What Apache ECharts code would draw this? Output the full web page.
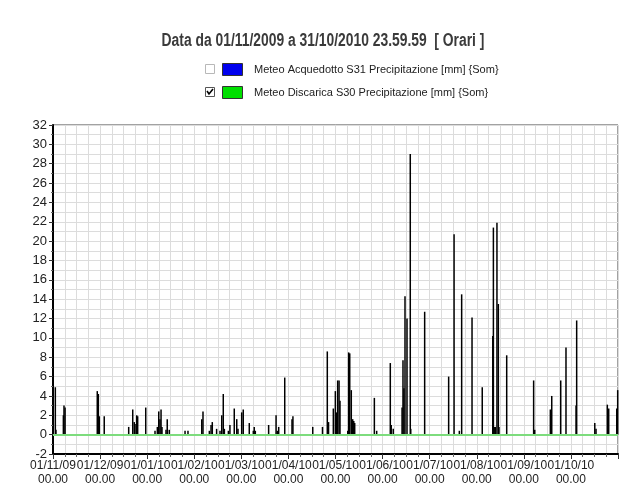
<html>

<head>
    <script src="https://cdn.jsdelivr.net/npm/echarts@6/dist/echarts.min.js"></script>
    <style>
        body {
            margin: 0;
            background: #fff;
        }

        #chart {
            width: 627px;
            height: 495px;
        }
    </style>
</head>

<body>
    <div id="chart"></div>
    <script>
        // giorni dall'01/11/2009 00.00 e pioggia oraria [mm] (Discarica S30)
        var rainDay = [1.5, 1.9, 6.7, 7.1, 7.8, 28.6, 29.3, 29.9, 33.1, 48.9,
            51.5, 52.5, 53.6, 54.1, 54.7, 59.9, 65.9, 67.4, 68.3, 69.1,
            69.8, 70.4, 73.0, 73.8, 75.1, 85.3, 87.2, 96.1, 96.9, 101.0,
            102.1, 102.9, 105.7, 107.9, 109.0, 110.0, 110.7, 113.3, 114.3, 117.1,
            118.7, 119.5, 121.9, 122.9, 126.8, 129.4, 130.0, 130.7, 139.3, 144.1,
            144.9, 145.8, 149.7, 154.4, 155.0, 167.8, 174.1, 177.2, 178.0, 181.1,
            182.4, 183.3, 183.9, 184.8, 185.4, 190.4, 191.0, 191.7, 192.7, 193.6,
            194.3, 194.9, 207.6, 209.1, 217.9, 218.5, 219.8, 225.5, 226.1, 226.7,
            227.4, 228.7, 230.8, 231.1, 240.1, 255.6, 259.1, 262.5, 264.0, 270.7,
            277.3, 284.1, 284.5, 285.4, 285.8, 286.8, 287.7, 288.1, 293.1, 310.5,
            311.2, 321.3, 322.2, 328.0, 331.4, 337.9, 338.3, 350.0, 350.8, 358.1,
            359.0, 364.2, 364.8];
        var rainMm = [4.9, 0.5, 2.0, 3.0, 2.8, 4.5, 4.2, 1.9, 1.9, 0.8,
            2.6, 1.3, 1.1, 2.0, 1.9, 2.8, 0.4, 0.8, 2.4, 1.6,
            2.6, 0.8, 0.5, 1.6, 0.5, 0.4, 0.4, 1.6, 2.4, 0.4,
            1.0, 1.3, 0.6, 0.4, 2.0, 4.2, 0.6, 0.4, 1.0, 2.7,
            1.6, 0.6, 2.3, 2.6, 1.2, 0.4, 0.8, 0.4, 1.0, 2.0,
            0.4, 0.8, 5.9, 1.6, 1.9, 0.8, 0.8, 8.6, 1.3, 2.7,
            4.5, 2.3, 5.6, 5.6, 3.5, 0.4, 8.5, 8.4, 4.6, 1.6,
            1.4, 1.2, 3.8, 0.4, 7.4, 1.0, 0.6, 2.8, 7.7, 4.8,
            14.3, 12.0, 29.0, 0.6, 12.7, 6.0, 20.7, 0.4, 14.5, 12.1,
            4.9, 10.2, 21.4, 0.8, 0.8, 21.9, 13.5, 0.8, 8.2, 5.6,
            0.5, 2.6, 4.0, 5.6, 9.0, 3.0, 11.8, 1.2, 0.6, 3.1,
            2.7, 2.7, 4.6];

        var monthLabels = ['01/11/09', '01/12/09', '01/01/10', '01/02/10', '01/03/10', '01/04/10',
            '01/05/10', '01/06/10', '01/07/10', '01/08/10', '01/09/10', '01/10/10'];
        var timeLabel = '00.00';
        var yTickLabels = [-2, 0, 2, 4, 6, 8, 10, 12, 14, 16, 18, 20, 22, 24, 26, 28, 30, 32];
        var daysInYear = 365;

        var seriesNames = ['Meteo Acquedotto S31 Precipitazione [mm] {Som}',
            'Meteo Discarica S30 Precipitazione [mm] {Som}'];
        var titleText = 'Data da 01/11/2009 a 31/10/2010 23.59.59  [ Orari ]';

        var barData = rainDay.map(function (d, i) {
            return [d * monthLabels.length / daysInYear, rainMm[i]];
        });

        var legendGraphic = [
            {
                type: 'text', x: 323, y: 41, scaleX: 0.77,
                style: { text: titleText, textAlign: 'center', textVerticalAlign: 'middle', font: 'bold 18px "Liberation Sans", Arial', fill: '#3a3a3a' }
            },
            // riga 1 (non selezionata)
            { type: 'rect', shape: { x: 205.5, y: 64.5, width: 9, height: 9 }, style: { fill: '#fff', stroke: '#b8b8b8', lineWidth: 1 } },
            { type: 'rect', shape: { x: 222.5, y: 63.5, width: 20, height: 12 }, style: { fill: '#0000ee', stroke: '#333', lineWidth: 1 } },
            {
                type: 'text', x: 254, y: 70,
                style: { text: seriesNames[0], textVerticalAlign: 'middle', font: '11px "Liberation Sans", Arial', fill: '#222' }
            },
            // riga 2 (selezionata)
            { type: 'rect', shape: { x: 205.5, y: 87.5, width: 9, height: 9 }, style: { fill: '#fff', stroke: '#555', lineWidth: 1 } },
            { type: 'polyline', shape: { points: [[207, 91], [209, 94], [213, 89]] }, style: { stroke: '#000', lineWidth: 1.6, fill: null } },
            { type: 'rect', shape: { x: 222.5, y: 86.5, width: 20, height: 12 }, style: { fill: '#00e000', stroke: '#333', lineWidth: 1 } },
            {
                type: 'text', x: 254, y: 93,
                style: { text: seriesNames[1], textVerticalAlign: 'middle', font: '11px "Liberation Sans", Arial', fill: '#222' }
            }
        ];

        var myChart = echarts.init(document.getElementById('chart'));
        var option = {
            animation: false,
            backgroundColor: '#fff',
            grid: {
                left: 53,
                right: 9,
                top: 125,
                bottom: 41,
                show: true,
                borderColor: '#444',
                borderWidth: 1
            },
            graphic: legendGraphic,
            xAxis: {
                type: 'value',
                min: 0,
                max: monthLabels.length,
                interval: 1,
                axisLine: { show: true, onZero: false, lineStyle: { color: '#000', width: 2 } },
                axisTick: { show: true, length: 5, lineStyle: { color: '#333' } },
                minorTick: { show: true, splitNumber: 4, length: 3, lineStyle: { color: '#666' } },
                splitLine: { show: true, lineStyle: { color: '#dcdcdc', width: 1 } },
                minorSplitLine: { show: true, lineStyle: { color: '#dcdcdc', width: 1 } },
                axisLabel: {
                    color: '#222',
                    fontSize: 12,
                    fontFamily: 'Liberation Sans, Arial',
                    margin: 5,
                    lineHeight: 14,
                    formatter: function (v) {
                        var i = Math.round(v);
                        return i < monthLabels.length ? monthLabels[i] + '\n' + timeLabel : '';
                    }
                }
            },
            yAxis: {
                type: 'value',
                min: yTickLabels[0],
                max: yTickLabels[yTickLabels.length - 1],
                interval: 2,
                axisLine: { show: true, onZero: false, lineStyle: { color: '#000', width: 2 } },
                axisTick: { show: true, length: 4, lineStyle: { color: '#333' } },
                minorTick: { show: true, splitNumber: 2, length: 2, lineStyle: { color: '#666' } },
                splitLine: { show: true, lineStyle: { color: '#dcdcdc', width: 1 } },
                minorSplitLine: { show: true, lineStyle: { color: '#dcdcdc', width: 1 } },
                // le etichette vengono disegnate sotto (ECharts 6 nasconde 0 / 30)
                axisLabel: { show: false }
            },
            series: [
                {
                    name: seriesNames[1],
                    type: 'bar',
                    barWidth: 1.5,
                    barGap: '-100%',
                    itemStyle: { color: '#000' },
                    data: barData,
                    markLine: {
                        silent: true,
                        symbol: 'none',
                        label: { show: false },
                        lineStyle: { color: '#7ddc7d', width: 2, type: 'solid' },
                        data: [{ yAxis: 0 }]
                    }
                }
            ]
        };

        myChart.setOption(option);

        // etichette asse Y posizionate con la scala del grafico
        var axisX = myChart.convertToPixel({ xAxisIndex: 0 }, 0);
        var yLabels = yTickLabels.map(function (v) {
            return {
                type: 'text',
                x: axisX - 6,
                y: myChart.convertToPixel({ yAxisIndex: 0 }, v),
                style: { text: String(v), textAlign: 'right', textVerticalAlign: 'middle', font: '13px "Liberation Sans", Arial', fill: '#222' }
            };
        });
        myChart.setOption({ graphic: legendGraphic.concat(yLabels) });

        window.onresize = myChart.resize;
    </script>

</body>

</html>
